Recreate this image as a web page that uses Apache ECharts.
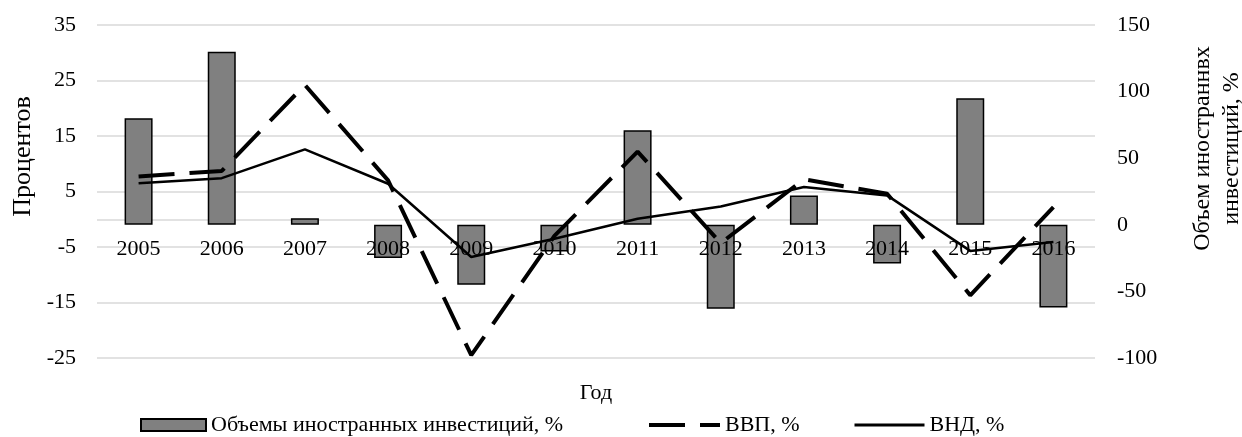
<!DOCTYPE html>
<html>
<head>
<meta charset="utf-8">
<script src="https://cdn.jsdelivr.net/npm/echarts@6/dist/echarts.min.js"></script>
<style>
html,body{margin:0;padding:0;background:#fff;}
#chart{width:1242px;height:437px;}
</style>
</head>
<body>
<div id="chart"></div>
<script>
var categories = ['2005','2006','2007','2008','2009','2010','2011','2012','2013','2014','2015','2016'];
var investValues = [80, 130, 5, -25, -45, -20, 71, -63, 22, -29, 95, -62];
var gdpValues = [7.7, 8.7, 24.2, 7.0, -24.5, -3.0, 12.2, -4.3, 7.2, 4.6, -13.7, 2.2];
var gniValues = [6.5, 7.4, 12.6, 6.4, -6.8, -3.5, 0.1, 2.3, 5.8, 4.3, -5.7, -4.1];
var seriesNames = ['Объемы иностранных инвестиций, %', 'ВВП, %', 'ВНД, %'];
var leftAxisName = 'Процентов';
var rightAxisName = 'Объем иностраннвх\nинвестиций, %';
var xAxisName = 'Год';

var FONT = '"Liberation Serif", "Times New Roman", serif';
var chart = echarts.init(document.getElementById('chart'));
var txt = {fontFamily: FONT, fontSize: 22, color: '#000'};

chart.setOption({
  animation: false,
  backgroundColor: '#fff',
  textStyle: {fontFamily: FONT},
  grid: {left: 97, right: 147, top: 25, bottom: 79, containLabel: false, outerBoundsMode: 'none'},
  legend: [
    {data: [seriesNames[0]], left: 140, top: 414, padding: 0, itemWidth: 65, itemHeight: 12, icon: 'rect',
     textStyle: txt, itemGap: 0},
    {data: [seriesNames[1]], left: 647, top: 414, padding: 0, itemWidth: 71, itemHeight: 12,
     textStyle: txt, itemGap: 0, itemStyle: {opacity: 0},
     lineStyle: {width: 4, type: [36, 15], color: '#000'}},
    {data: [seriesNames[2]], left: 853, top: 414, padding: 0, itemWidth: 70, itemHeight: 12,
     textStyle: txt, itemGap: 0, itemStyle: {opacity: 0},
     lineStyle: {width: 3, type: 'solid', color: '#000'}}
  ],
  xAxis: {
    type: 'category',
    data: categories,
    z: 2,
    name: xAxisName,
    nameLocation: 'middle',
    nameGap: 24,
    nameTextStyle: txt,
    axisLine: {show: false, onZero: false},
    axisTick: {show: false},
    axisLabel: Object.assign({margin: -120}, txt),
    splitLine: {show: false}
  },
  yAxis: [
    {
      type: 'value', min: -25, max: 35, interval: 10,
      name: leftAxisName, nameLocation: 'middle', nameRotate: 90, nameGap: 61,
      nameTextStyle: Object.assign({padding: [0, 0, 0, 70]}, txt, {fontSize: 26}),
      axisLine: {show: false}, axisTick: {show: false},
      axisLabel: Object.assign({margin: 21}, txt),
      splitLine: {show: true, lineStyle: {color: '#d9d9d9', width: 1.5}}
    },
    {
      type: 'value', min: -100, max: 150, interval: 50,
      name: rightAxisName, nameLocation: 'middle', nameRotate: 90, nameGap: 93,
      nameTextStyle: Object.assign({padding: [0, 0, 0, 86], lineHeight: 29}, txt, {fontSize: 24}),
      axisLine: {show: false}, axisTick: {show: false},
      axisLabel: Object.assign({margin: 22}, txt),
      splitLine: {show: false}
    }
  ],
  series: [
    {
      name: seriesNames[0], type: 'bar', yAxisIndex: 1, data: investValues,
      barWidth: 28, z: 1,
      itemStyle: {color: '#808080', borderColor: '#000', borderWidth: 1.5}
    },
    {
      name: seriesNames[1], type: 'line', yAxisIndex: 0, data: gdpValues,
      symbol: 'none', z: 3,
      lineStyle: {color: '#000', width: 4, type: [36, 15]},
      itemStyle: {color: '#000'}
    },
    {
      name: seriesNames[2], type: 'line', yAxisIndex: 0, data: gniValues,
      symbol: 'none', z: 3,
      lineStyle: {color: '#000', width: 2.5, type: 'solid'},
      itemStyle: {color: '#000'},
      markLine: {
        silent: true, z: 0, symbol: ['none', 'none'], animation: false,
        label: {show: false},
        lineStyle: {color: '#d9d9d9', width: 1.5, type: 'solid'},
        data: [{yAxis: 0}]
      }
    }
  ]
});
</script>
</body>
</html>
